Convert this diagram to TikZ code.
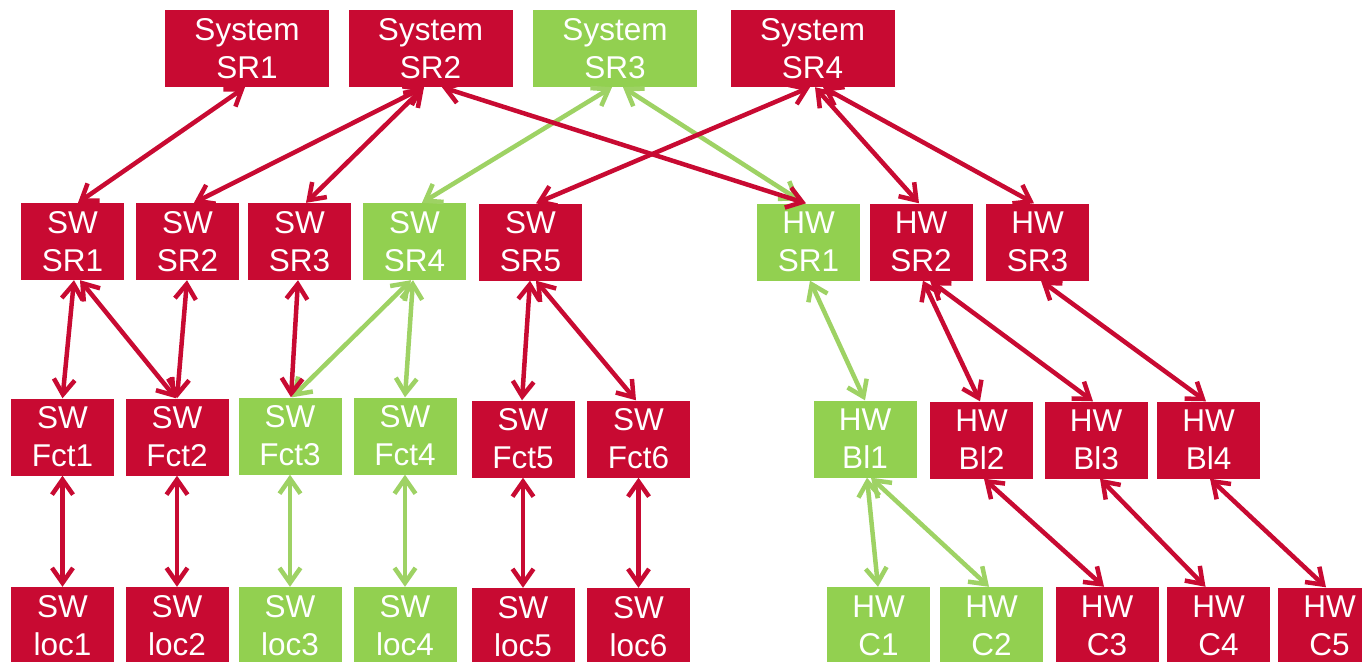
\documentclass[tikz,border=0pt]{standalone}
\usepackage{fontspec}
\setmainfont{Liberation Sans}
\usetikzlibrary{arrows.meta}
\definecolor{reqred}{RGB}{200,10,50}
\definecolor{reqgreen}{RGB}{146,208,80}
\definecolor{linkgreen}{RGB}{158,210,100}
\tikzset{
  box/.style={rectangle, fill=reqred, text=white, inner sep=0pt,
    minimum width=103pt, minimum height=77pt, align=center,
    font=\fontsize{31.5}{38}\selectfont},
  okbox/.style={box, fill=reqgreen},
  sysbox/.style={box, minimum width=164pt},
  oksysbox/.style={sysbox, fill=reqgreen},
  link/.style={line width=4.5pt, line cap=round, line join=round,
    {Straight Barb[length=15pt,width=21pt]}-{Straight Barb[length=15pt,width=21pt]}},
  redlink/.style={link, draw=reqred},
  greenlink/.style={link, draw=linkgreen},
}
\begin{document}
\begin{tikzpicture}[x=1pt,y=-1pt]
\clip (0,0) rectangle (1362,661);
\fill[white] (0,0) rectangle (1362,661);

% system requirements
\node[sysbox]   (sys1) at (247,48.5)   {System\\SR1};
\node[sysbox]   (sys2) at (430.5,48.5) {System\\SR2};
\node[oksysbox] (sys3) at (615,48.5)   {System\\SR3};
\node[sysbox]   (sys4) at (812.5,48.5) {System\\SR4};

% software and hardware requirements
\node[box]   (swsr1) at (72.5,241.5)  {SW\\SR1};
\node[box]   (swsr2) at (187.5,241.5) {SW\\SR2};
\node[box]   (swsr3) at (299.5,241.5) {SW\\SR3};
\node[okbox] (swsr4) at (414.5,241.5) {SW\\SR4};
\node[box]   (swsr5) at (530.5,242)   {SW\\SR5};
\node[okbox] (hwsr1) at (808.5,242)   {HW\\SR1};
\node[box]   (hwsr2) at (921,242)     {HW\\SR2};
\node[box]   (hwsr3) at (1037.5,242)  {HW\\SR3};

% functions and blocks
\node[box]   (fct1) at (62.5,437)  {SW\\Fct1};
\node[box]   (fct2) at (177,437)   {SW\\Fct2};
\node[okbox] (fct3) at (290,436)   {SW\\Fct3};
\node[okbox] (fct4) at (405,436)   {SW\\Fct4};
\node[box]   (fct5) at (523,439)   {SW\\Fct5};
\node[box]   (fct6) at (638.5,439) {SW\\Fct6};
\node[okbox] (bl1)  at (865,439)   {HW\\Bl1};
\node[box]   (bl2)  at (981.5,440) {HW\\Bl2};
\node[box]   (bl3)  at (1096,440)  {HW\\Bl3};
\node[box]   (bl4)  at (1208.5,440){HW\\Bl4};

% locations and components
\node[box]   (loc1) at (62.5,625.5)  {SW\\loc1};
\node[box]   (loc2) at (177,625.5)   {SW\\loc2};
\node[okbox] (loc3) at (290,625.5)   {SW\\loc3};
\node[okbox] (loc4) at (405,625.5)   {SW\\loc4};
\node[box]   (loc5) at (523,626.5)   {SW\\loc5};
\node[box]   (loc6) at (638.5,626.5) {SW\\loc6};
\node[okbox] (c1)   at (878.5,625.5) {HW\\C1};
\node[okbox] (c2)   at (991.5,625.5) {HW\\C2};
\node[box]   (c3)   at (1107,625.5)  {HW\\C3};
\node[box]   (c4)   at (1218.5,625.5){HW\\C4};
\node[box]   (c5)   at (1329.5,626)  {HW\\C5};

% green links
\draw[greenlink] ([xshift=-3pt]sys3.south) -- ([xshift=7.5pt]swsr4.north);
\draw[greenlink] ([xshift=8pt]sys3.south) -- ([xshift=-9pt,yshift=3pt]hwsr1.north);
\draw[greenlink] ([xshift=-3.5pt]swsr4.south) -- ([xshift=2pt]fct3.north);
\draw[greenlink] ([xshift=-1.5pt]swsr4.south) -- (fct4.north);
\draw[greenlink] (fct3.south) -- (loc3.north);
\draw[greenlink] (fct4.south) -- (loc4.north);
\draw[greenlink] ([xshift=1.5pt]hwsr1.south) -- (bl1.north);
\draw[greenlink] ([xshift=2pt]bl1.south) -- ([xshift=-0.5pt]c1.north);
\draw[greenlink] ([xshift=6pt]bl1.south) -- ([xshift=-2.5pt]c2.north);

% red links
\draw[redlink] ([xshift=-2pt]sys1.south) -- ([xshift=5.5pt]swsr1.north);
\draw[redlink] ([xshift=-6.5pt]sys2.south) -- ([xshift=6.5pt]swsr2.north);
\draw[redlink] ([xshift=-6.5pt]sys2.south) -- ([xshift=6.5pt]swsr3.north);
\draw[redlink] ([xshift=11.5pt]sys2.south) -- ([xshift=-2.5pt]hwsr1.north);
\draw[redlink] ([xshift=-2.5pt]sys4.south) -- ([xshift=5.5pt]swsr5.north);
\draw[redlink] ([xshift=2.5pt]sys4.south) -- ([xshift=-2pt]hwsr2.north);
\draw[redlink] ([xshift=10.5pt]sys4.south) -- ([xshift=-3.5pt]hwsr3.north);

\draw[redlink] ([xshift=1.5pt]swsr1.south) -- (fct1.north);
\draw[redlink] ([xshift=7.5pt]swsr1.south) -- ([xshift=-1pt]fct2.north);
\draw[redlink] ([xshift=-0.5pt]swsr2.south) -- (fct2.north);
\draw[redlink] ([xshift=-1.5pt]swsr3.south) -- ([xshift=1pt]fct3.north);
\draw[redlink] ([xshift=-0.5pt]swsr5.south) -- ([xshift=-1pt]fct5.north);
\draw[redlink] ([xshift=5.5pt]swsr5.south) -- ([xshift=-2.5pt]fct6.north);

\draw[redlink] (fct1.south) -- (loc1.north);
\draw[redlink] (fct2.south) -- (loc2.north);
\draw[redlink] (fct5.south) -- (loc5.north);
\draw[redlink] (fct6.south) -- (loc6.north);

\draw[redlink] ([xshift=2pt]hwsr2.south) -- ([xshift=-1.5pt]bl2.north);
\draw[redlink] ([xshift=9pt]hwsr2.south) -- ([xshift=-3pt]bl3.north);
\draw[redlink] ([xshift=3.5pt]hwsr3.south) -- ([xshift=-2.5pt]bl4.north);
\draw[redlink] ([xshift=2.5pt]bl2.south) -- ([xshift=-3pt]c3.north);
\draw[redlink] ([xshift=4pt]bl3.south) -- ([xshift=-13pt]c4.north);
\draw[redlink] ([xshift=1.5pt]bl4.south) -- ([xshift=-3.5pt]c5.north);
\end{tikzpicture}
\end{document}
